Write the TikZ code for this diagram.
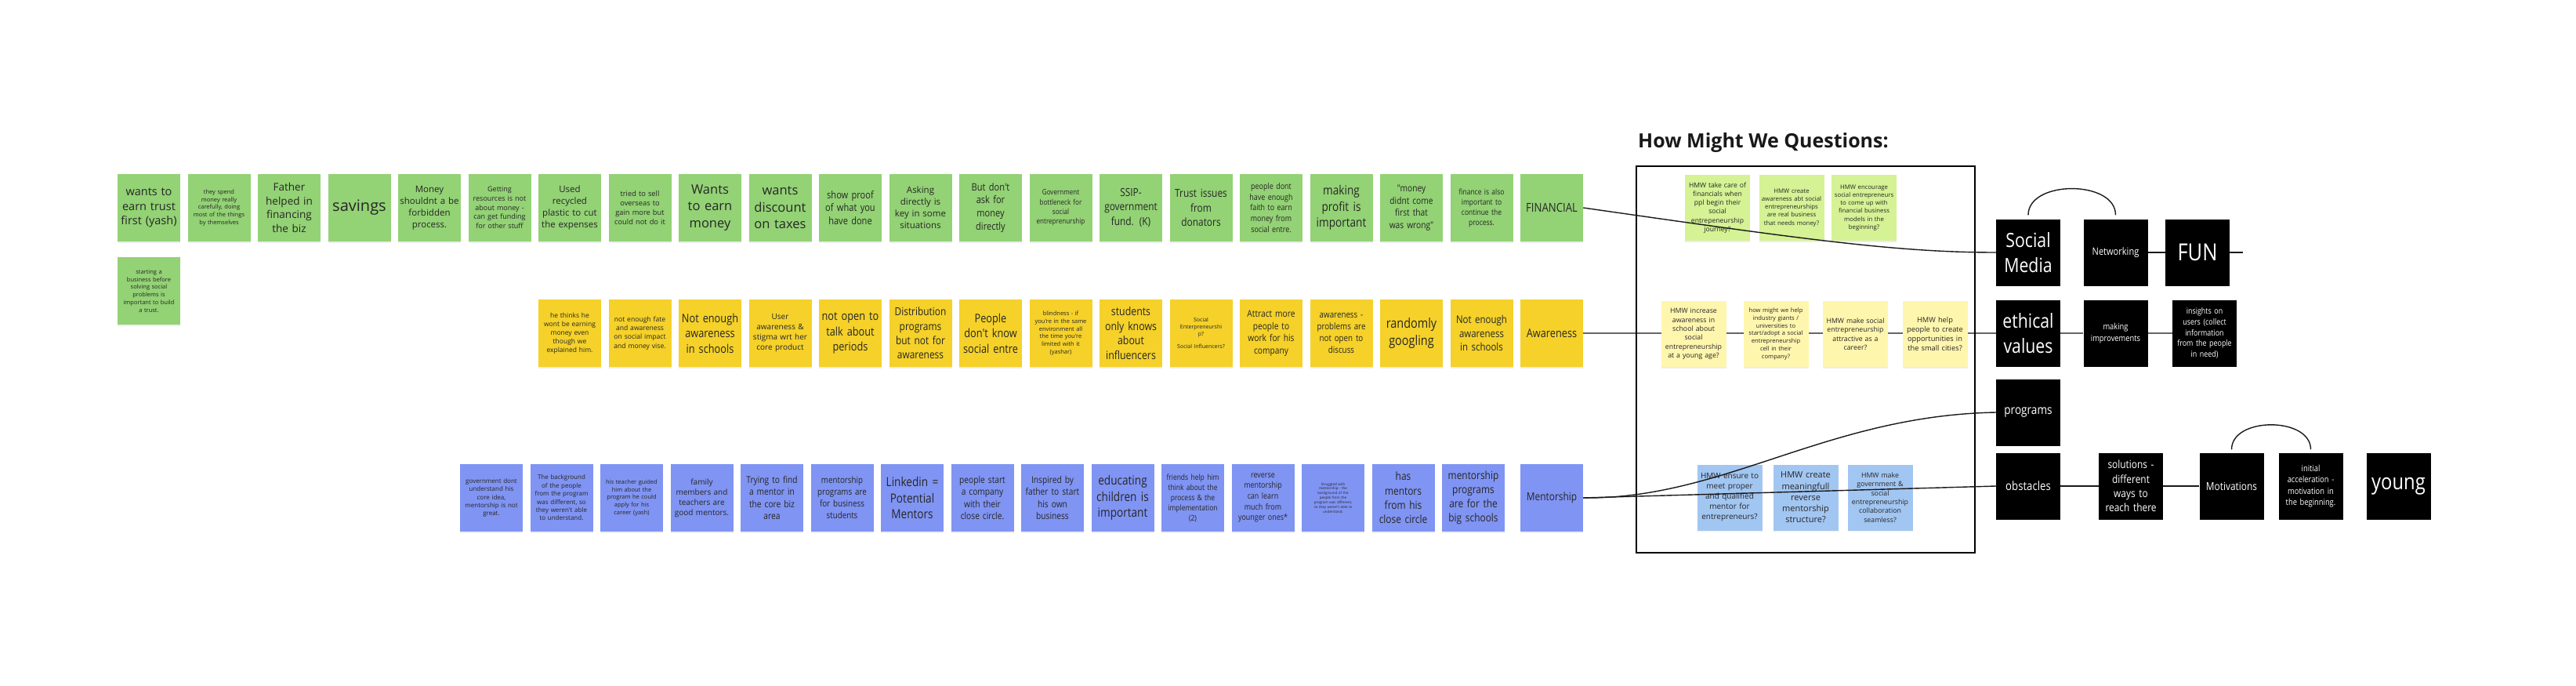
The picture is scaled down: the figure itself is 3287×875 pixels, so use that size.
\documentclass[tikz,border=0pt]{standalone}
\usepackage{fontspec}
\setmainfont{Open Sans}
\newfontfamily\fA{Open Sans}
\newfontfamily\fB{Open Sans}[FakeStretch=0.85]
\usetikzlibrary{shadows,backgrounds}
\definecolor{stgreen}{HTML}{93D275}
\definecolor{styellow}{HTML}{F5D12A}
\definecolor{stblue}{HTML}{8094F3}
\definecolor{hgreen}{HTML}{D5F294}
\definecolor{hyellow}{HTML}{FFF6AE}
\definecolor{hblue}{HTML}{A2C6F2}
\newcommand\fsz[1]{\fontsize{#1}{\fpeval{1.3*#1}}\selectfont}
\tikzset{
  sticky/.style={minimum width=80pt, minimum height=86pt, inner sep=0pt, align=center,
    text width=76pt, text=black!85,
    drop shadow={shadow xshift=0pt, shadow yshift=-1.5pt, opacity=0.15}},
  gs/.style={sticky, fill=stgreen},
  ys/.style={sticky, fill=styellow},
  bs/.style={sticky, fill=stblue},
  hmw/.style={sticky, minimum width=83pt, minimum height=84pt, text width=79pt},
  hg/.style={hmw, fill=hgreen},
  hy/.style={hmw, fill=hyellow},
  hb/.style={hmw, fill=hblue},
  blk/.style={fill=black, text=white, minimum width=82pt, minimum height=85pt,
    inner sep=0pt, text width=78pt, align=center},
  conn/.style={line width=1.4pt, draw=black!90},
  gconn/.style={line width=1.8pt, draw=black!60},
}
\begin{document}
\begin{tikzpicture}[x=1pt, y=-1pt]
\useasboundingbox (0,0) rectangle (3287,875);

% ---------------- green row (FINANCIAL) ----------------
\node[gs, font=\fA\fsz{14.5}] (g1) at (190,265) {wants to\\earn trust\\first (yash)};
\node[gs, font=\fA\fsz{7.5}] (g2) at (279.5,265) {they spend\\money really\\carefully, doing\\most of the things\\by themselves};
\node[gs, font=\fA\fsz{13.5}] (g3) at (369,265) {Father\\helped in\\financing\\the biz};
\node[gs, font=\fA\fsz{20}] (g4) at (458.5,265) {savings};
\node[gs, font=\fA\fsz{11.5}] (g5) at (548,265) {Money\\shouldnt a be\\forbidden\\process.};
\node[gs, font=\fA\fsz{9}] (g6) at (637.5,265) {Getting\\resources is not\\about money -\\can get funding\\for other stuff};
\node[gs, font=\fA\fsz{11.5}] (g7) at (727,265) {Used\\recycled\\plastic to cut\\the expenses};
\node[gs, font=\fA\fsz{9.3}] (g8) at (816.5,265) {tried to sell\\overseas to\\gain more but\\could not do it};
\node[gs, font=\fA\fsz{16.5}] (g9) at (906,265) {Wants\\to earn\\money};
\node[gs, font=\fA\fsz{16.5}] (g10) at (995.5,265) {wants\\discount\\on taxes};
\node[gs, font=\fB\fsz{13}] (g11) at (1085,265) {show proof\\of what you\\have done};
\node[gs, font=\fA\fsz{11.5}] (g12) at (1174.5,265) {Asking\\directly is\\key in some\\situations};
\node[gs, font=\fB\fsz{13}] (g13) at (1264,265) {But don't\\ask for\\money\\directly};
\node[gs, font=\fB\fsz{9.5}] (g14) at (1353.5,265) {Government\\bottleneck for\\social\\entreprenurship};
\node[gs, font=\fB\fsz{14}] (g15) at (1443,265) {SSIP-\\government\\fund. (K)};
\node[gs, font=\fB\fsz{14}] (g16) at (1532.5,265) {Trust issues\\from\\donators};
\node[gs, font=\fB\fsz{10.5}] (g17) at (1622,265) {people dont\\have enough\\faith to earn\\money from\\social entre.};
\node[gs, font=\fB\fsz{16}] (g18) at (1711.5,265) {making\\profit is\\important};
\node[gs, font=\fB\fsz{12}] (g19) at (1801,265) {"money\\didnt come\\first that\\was wrong"};
\node[gs, font=\fB\fsz{10}] (g20) at (1890.5,265) {finance is also\\important to\\continue the\\process.};
\node[gs, font=\fB\fsz{15.5}] (g21) at (1980,265) {FINANCIAL};
\node[gs, font=\fA\fsz{7.5}] (g22) at (190,371) {starting a\\business before\\solving social\\problems is\\important to build\\a trust.};

% ---------------- yellow row (Awareness) ----------------
\node[ys, font=\fA\fsz{8.5}] (y1) at (727,425) {he thinks he\\wont be earning\\money even\\though we\\explained him.};
\node[ys, font=\fA\fsz{8.6}] (y2) at (816.5,425) {not enough fate\\and awareness\\on social impact\\and money vise.};
\node[ys, font=\fB\fsz{15}] (y3) at (906,425) {Not enough\\awareness\\in schools};
\node[ys, font=\fA\fsz{10}] (y4) at (995.5,425) {User\\awareness \&\\stigma wrt her\\core product};
\node[ys, font=\fB\fsz{15}] (y5) at (1085,425) {not open to\\talk about\\periods};
\node[ys, font=\fB\fsz{14}] (y6) at (1174.5,425) {Distribution\\programs\\but not for\\awareness};
\node[ys, font=\fB\fsz{15}] (y7) at (1264,425) {People\\don't know\\social entre};
\node[ys, font=\fA\fsz{7.5}] (y8) at (1353.5,425) {blindness - if\\you're in the same\\environment all\\the time you're\\limited with it\\(yashar)};
\node[ys, font=\fB\fsz{14.5}] (y9) at (1443,425) {students\\only knows\\about\\influencers};
\node[ys, font=\fA\fsz{7}] (y10) at (1532.5,425) {Social\\Enterpreneurshi\\p?\\[7pt]Social Influencers?};
\node[ys, font=\fB\fsz{12}] (y11) at (1622,425) {Attract more\\people to\\work for his\\company};
\node[ys, font=\fB\fsz{11.5}] (y12) at (1711.5,425) {awareness -\\problems are\\not open to\\discuss};
\node[ys, font=\fB\fsz{17}] (y13) at (1801,425) {randomly\\googling};
\node[ys, font=\fB\fsz{13.5}] (y14) at (1890.5,425) {Not enough\\awareness\\in schools};
\node[ys, font=\fB\fsz{15}] (y15) at (1980,425) {Awareness};

% ---------------- blue row (Mentorship) ----------------
\node[bs, font=\fA\fsz{8}] (b1) at (627,635) {government dont\\understand his\\core idea,\\mentorship is not\\great.};
\node[bs, font=\fA\fsz{8}] (b2) at (716.5,635) {The background\\of the people\\from the program\\was different, so\\they weren't able\\to understand.};
\node[bs, font=\fA\fsz{7.5}] (b3) at (806,635) {his teacher guided\\him about the\\program he could\\apply for his\\career (yash)};
\node[bs, font=\fA\fsz{10}] (b4) at (895.5,635) {family\\members and\\teachers are\\good mentors.};
\node[bs, font=\fB\fsz{12}] (b5) at (985,635) {Trying to find\\a mentor in\\the core biz\\area};
\node[bs, font=\fB\fsz{11.5}] (b6) at (1074.5,635) {mentorship\\programs are\\for business\\students};
\node[bs, font=\fB\fsz{16}] (b7) at (1164,635) {Linkedin =\\Potential\\Mentors};
\node[bs, font=\fB\fsz{12}] (b8) at (1253.5,635) {people start\\a company\\with their\\close circle.};
\node[bs, font=\fB\fsz{12}] (b9) at (1343,635) {Inspired by\\father to start\\his own\\business};
\node[bs, font=\fB\fsz{16}] (b10) at (1432.5,635) {educating\\children is\\important};
\node[bs, font=\fB\fsz{10}] (b11) at (1522,635) {friends help him\\think about the\\process \& the\\implementation\\(2)};
\node[bs, font=\fB\fsz{10.5}] (b12) at (1611.5,635) {reverse\\mentorship\\can learn\\much from\\younger ones*};
\node[bs, font=\fA\fsz{4.5}] (b13) at (1701,635) {Struggled with\\mentorship - the\\background of the\\people from the\\program was different,\\so they weren't able to\\understand.};
\node[bs, font=\fB\fsz{14}] (b14) at (1790.5,635) {has\\mentors\\from his\\close circle};
\node[bs, font=\fB\fsz{14}] (b15) at (1880,635) {mentorship\\programs\\are for the\\big schools};
\node[bs, font=\fB\fsz{14}] (b16) at (1980,635) {Mentorship};

% ---------------- How Might We ----------------
\node[anchor=base west, inner sep=0pt, text=black!90,
      font=\fA\bfseries\fontsize{25}{30}\selectfont] (title) at (2090,188) {How Might We Questions:};
\node[draw=black, line width=1.5pt, minimum width=432pt, minimum height=493pt, inner sep=0pt] (hmwbox) at (2304,458.5) {};

\node[hg, font=\fA\fsz{8.6}] (hg1) at (2191.5,265) {HMW take care of\\financials when\\ppl begin their\\social\\entrepeneurship\\journey?};
\node[hg, font=\fA\fsz{7.8}] (hg2) at (2286,265) {HMW create\\awareness abt social\\entrepreneurships\\are real business\\that needs money?};
\node[hg, font=\fA\fsz{7.8}] (hg3) at (2378.5,265) {HMW encourage\\social entrepreneurs\\to come up with\\financial business\\models in the\\beginning?};

\node[hy, font=\fA\fsz{8.8}] (hy1) at (2161,426) {HMW increase\\awareness in\\school about\\social\\entrepreneurship\\at a young age?};
\node[hy, font=\fA\fsz{7.6}] (hy2) at (2266,426) {how might we help\\industry giants /\\universities to\\start/adopt a social\\entrepreneurship\\cell in their\\company?};
\node[hy, font=\fA\fsz{8.8}] (hy3) at (2367.5,426) {HMW make social\\entrepreneurship\\attractive as a\\career?};
\node[hy, font=\fA\fsz{9.3}] (hy4) at (2469,426) {HMW help\\people to create\\opportunities in\\the small cities?};

\node[hb, font=\fA\fsz{10}] (hb1) at (2207,634.5) {HMW ensure to\\meet proper\\and qualified\\mentor for\\entrepreneurs?};
\node[hb, font=\fA\fsz{11}] (hb2) at (2304,634.5) {HMW create\\meaningfull\\reverse\\mentorship\\structure?};
\node[hb, font=\fA\fsz{8.8}] (hb3) at (2399,634.5) {HMW make\\government \&\\social\\entrepreneurship\\collaboration\\seamless?};

% ---------------- black theme boxes ----------------
\node[blk, font=\fB\fsz{25}] (sm) at (2588,322) {Social\\Media};
\node[blk, font=\fB\fsz{13}] (net) at (2699.5,322) {Networking};
\node[blk, font=\fB\fsz{30}] (fun) at (2804,322) {FUN};
\node[blk, font=\fB\fsz{25}] (eth) at (2588,425) {ethical\\values};
\node[blk, font=\fB\fsz{11}] (mak) at (2699.5,425) {making\\improvements};
\node[blk, font=\fB\fsz{10.5}] (ins) at (2813,425) {insights on\\users (collect\\information\\from the people\\in need)};
\node[blk, font=\fB\fsz{16}] (prog) at (2588,526) {programs};
\node[blk, font=\fB\fsz{15.5}] (obs) at (2588,620) {obstacles};
\node[blk, font=\fB\fsz{14}] (sol) at (2719,620) {solutions -\\different\\ways to\\reach there};
\node[blk, font=\fB\fsz{14}] (mot) at (2847.5,620) {Motivations};
\node[blk, font=\fB\fsz{11}] (ini) at (2948.5,620) {initial\\acceleration -\\motivation in\\the beginning.};
\node[blk, font=\fB\fsz{28}] (yng) at (3060.5,620) {young};
\coordinate (funend) at (2862,322);

% ---------------- connectors ----------------
\begin{scope}[on background layer]
  \draw[gconn] (y15.east) -- (eth.west);
\end{scope}
\draw[conn] (g21.east) .. controls (2300,305) and (2420,322) .. (sm.west);
\draw[conn] (b16.east) .. controls (2200,637) and (2330,530) .. (prog.west);
\draw[conn] (b16.east) -- (obs.west);
\draw[conn] ([yshift=5pt]sm.north) .. controls +(0,-45) and +(0,-45) .. ([yshift=5pt]net.north);
\draw[conn] (net.east) -- (fun.west);
\draw[conn] (fun.east) -- (funend);
\draw[gconn] (eth.east) -- (mak.west);
\draw[gconn] (mak.east) -- (ins.west);
\draw[conn] (obs.east) -- (sol.west);
\draw[conn] (sol.east) -- (mot.west);
\draw[conn] ([yshift=4pt]mot.north) .. controls +(0,-42) and +(0,-42) .. ([yshift=4pt]ini.north);
\end{tikzpicture}
\end{document}
